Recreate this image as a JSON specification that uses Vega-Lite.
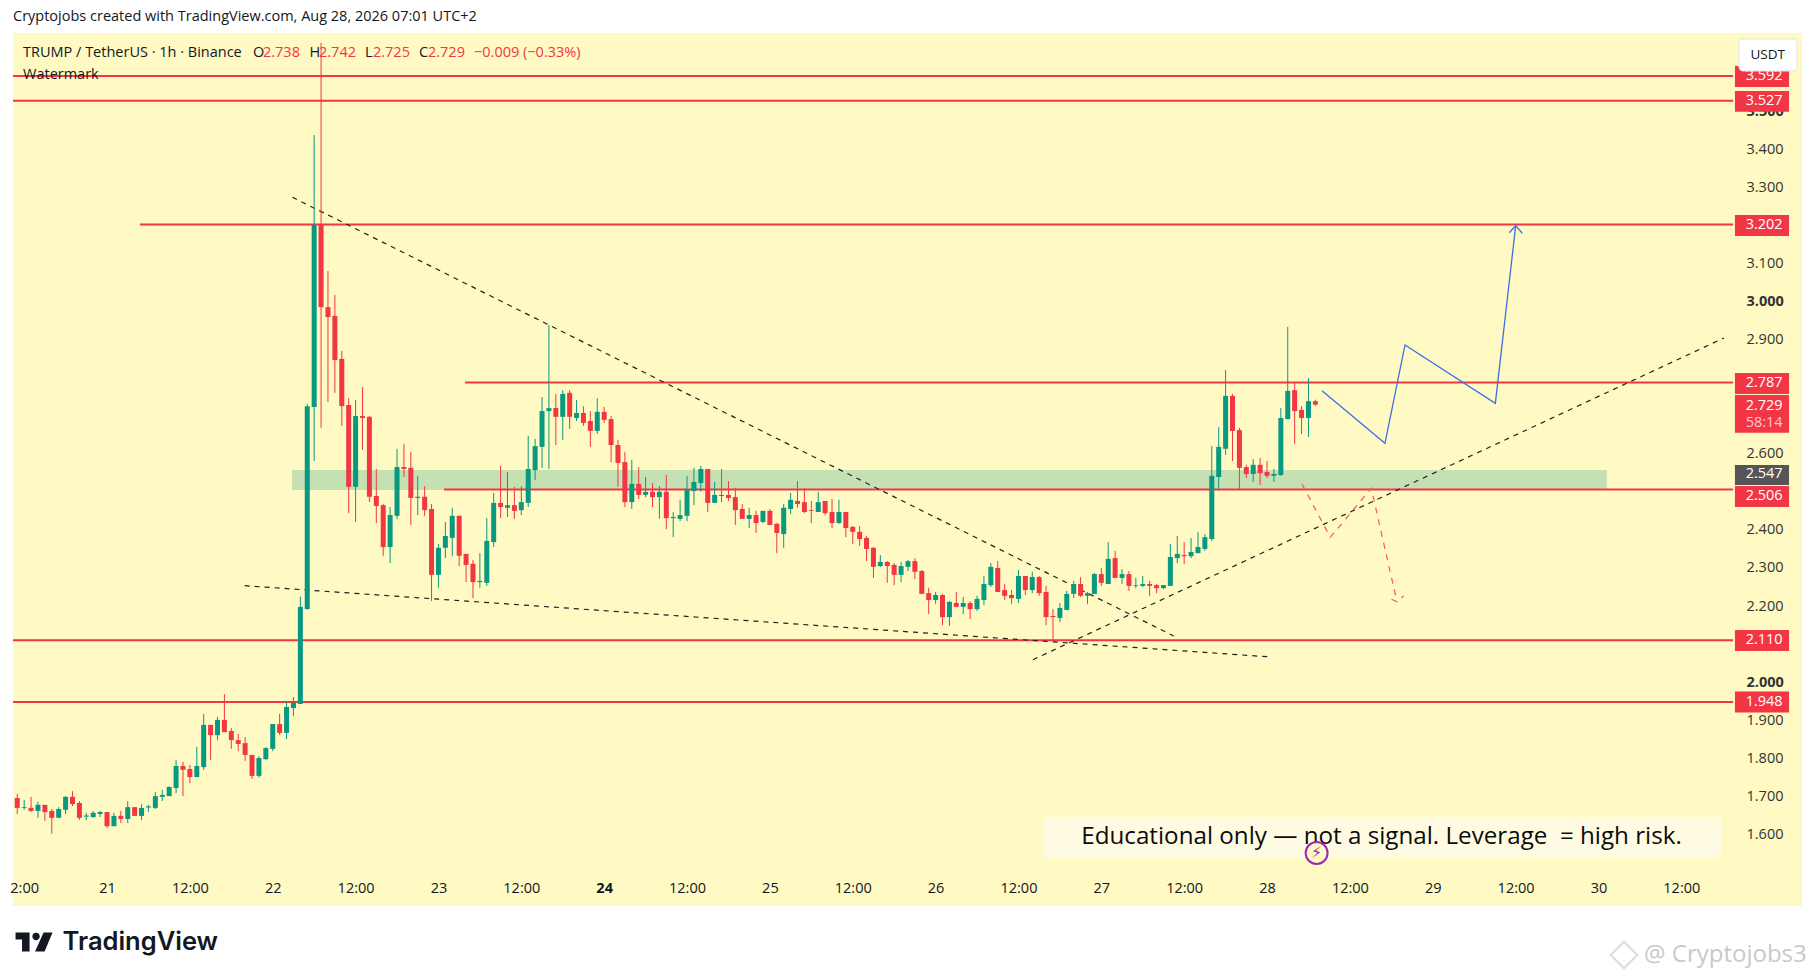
{"$schema":"https://vega.github.io/schema/vega-lite/v6.json","width":1788,"height":872,"autosize":{"type":"none"},"padding":{"left":13,"top":33,"right":13,"bottom":75},"background":"#ffffff","config":{"view":{"fill":"#FFF9C4","stroke":"#f0f3fa"},"font":"Open Sans"},
"title":{"text":"Cryptojobs created with TradingView.com, Aug 28, 2026 07:01 UTC+2","anchor":"start","frame":"group","offset":9,"fontSize":14.5,"fontWeight":"normal","color":"#131722","font":"Open Sans"},
"resolve":{"scale":{"color":"independent"}},
"datasets":{"candles":[
{"t":"2026-08-20T11:00","o":1.696,"h":1.707,"l":1.654,"c":1.670},{"t":"2026-08-20T12:00","o":1.670,"h":1.691,"l":1.665,"c":1.672},{"t":"2026-08-20T13:00","o":1.670,"h":1.699,"l":1.659,"c":1.662},{"t":"2026-08-20T14:00","o":1.662,"h":1.686,"l":1.644,"c":1.678},{"t":"2026-08-20T15:00","o":1.678,"h":1.678,"l":1.636,"c":1.659},{"t":"2026-08-20T16:00","o":1.662,"h":1.667,"l":1.602,"c":1.644},{"t":"2026-08-20T17:00","o":1.644,"h":1.672,"l":1.644,"c":1.667},{"t":"2026-08-20T18:00","o":1.665,"h":1.701,"l":1.654,"c":1.699},{"t":"2026-08-20T19:00","o":1.699,"h":1.714,"l":1.675,"c":1.680},{"t":"2026-08-20T20:00","o":1.683,"h":1.688,"l":1.638,"c":1.644},{"t":"2026-08-20T21:00","o":1.647,"h":1.657,"l":1.638,"c":1.650},{"t":"2026-08-20T22:00","o":1.646,"h":1.662,"l":1.644,"c":1.657},{"t":"2026-08-20T23:00","o":1.654,"h":1.662,"l":1.646,"c":1.659},
{"t":"2026-08-21T00:00","o":1.659,"h":1.659,"l":1.617,"c":1.622},{"t":"2026-08-21T01:00","o":1.622,"h":1.657,"l":1.622,"c":1.649},{"t":"2026-08-21T02:00","o":1.649,"h":1.662,"l":1.630,"c":1.641},{"t":"2026-08-21T03:00","o":1.641,"h":1.688,"l":1.630,"c":1.672},{"t":"2026-08-21T04:00","o":1.672,"h":1.672,"l":1.649,"c":1.649},{"t":"2026-08-21T05:00","o":1.649,"h":1.680,"l":1.638,"c":1.670},{"t":"2026-08-21T06:00","o":1.671,"h":1.678,"l":1.659,"c":1.674},{"t":"2026-08-21T07:00","o":1.670,"h":1.712,"l":1.667,"c":1.701},{"t":"2026-08-21T08:00","o":1.699,"h":1.717,"l":1.688,"c":1.704},{"t":"2026-08-21T09:00","o":1.701,"h":1.727,"l":1.701,"c":1.725},{"t":"2026-08-21T10:00","o":1.722,"h":1.796,"l":1.709,"c":1.780},{"t":"2026-08-21T11:00","o":1.780,"h":1.791,"l":1.701,"c":1.770},{"t":"2026-08-21T12:00","o":1.772,"h":1.783,"l":1.735,"c":1.751},{"t":"2026-08-21T13:00","o":1.751,"h":1.830,"l":1.751,"c":1.780},{"t":"2026-08-21T14:00","o":1.777,"h":1.917,"l":1.770,"c":1.888},{"t":"2026-08-21T15:00","o":1.888,"h":1.888,"l":1.796,"c":1.861},{"t":"2026-08-21T16:00","o":1.861,"h":1.909,"l":1.848,"c":1.901},{"t":"2026-08-21T17:00","o":1.901,"h":1.969,"l":1.869,"c":1.869},{"t":"2026-08-21T18:00","o":1.872,"h":1.880,"l":1.825,"c":1.848},{"t":"2026-08-21T19:00","o":1.848,"h":1.864,"l":1.819,"c":1.838},{"t":"2026-08-21T20:00","o":1.840,"h":1.856,"l":1.793,"c":1.809},{"t":"2026-08-21T21:00","o":1.809,"h":1.809,"l":1.746,"c":1.754},{"t":"2026-08-21T22:00","o":1.754,"h":1.806,"l":1.749,"c":1.801},{"t":"2026-08-21T23:00","o":1.798,"h":1.830,"l":1.796,"c":1.827},
{"t":"2026-08-22T00:00","o":1.825,"h":1.890,"l":1.819,"c":1.890},{"t":"2026-08-22T01:00","o":1.890,"h":1.917,"l":1.861,"c":1.867},{"t":"2026-08-22T02:00","o":1.867,"h":1.948,"l":1.851,"c":1.935},{"t":"2026-08-22T03:00","o":1.932,"h":1.961,"l":1.911,"c":1.946},{"t":"2026-08-22T04:00","o":1.943,"h":2.225,"l":1.943,"c":2.198},{"t":"2026-08-22T05:00","o":2.192,"h":2.731,"l":2.190,"c":2.725},{"t":"2026-08-22T06:00","o":2.723,"h":3.437,"l":2.581,"c":3.201},{"t":"2026-08-22T07:00","o":3.201,"h":3.679,"l":2.668,"c":2.985},{"t":"2026-08-22T08:00","o":2.985,"h":3.080,"l":2.736,"c":2.959},{"t":"2026-08-22T09:00","o":2.962,"h":3.017,"l":2.760,"c":2.846},{"t":"2026-08-22T10:00","o":2.849,"h":2.870,"l":2.673,"c":2.725},{"t":"2026-08-22T11:00","o":2.728,"h":2.746,"l":2.444,"c":2.513},{"t":"2026-08-22T12:00","o":2.513,"h":2.741,"l":2.421,"c":2.699},{"t":"2026-08-22T13:00","o":2.699,"h":2.775,"l":2.610,"c":2.694},{"t":"2026-08-22T14:00","o":2.697,"h":2.699,"l":2.473,"c":2.487},{"t":"2026-08-22T15:00","o":2.489,"h":2.560,"l":2.418,"c":2.463},{"t":"2026-08-22T16:00","o":2.465,"h":2.468,"l":2.332,"c":2.355},{"t":"2026-08-22T17:00","o":2.355,"h":2.460,"l":2.313,"c":2.439},{"t":"2026-08-22T18:00","o":2.437,"h":2.613,"l":2.429,"c":2.565},{"t":"2026-08-22T19:00","o":2.565,"h":2.626,"l":2.539,"c":2.560},{"t":"2026-08-22T20:00","o":2.563,"h":2.605,"l":2.413,"c":2.484},{"t":"2026-08-22T21:00","o":2.484,"h":2.542,"l":2.439,"c":2.487},{"t":"2026-08-22T22:00","o":2.487,"h":2.515,"l":2.437,"c":2.452},{"t":"2026-08-22T23:00","o":2.455,"h":2.468,"l":2.213,"c":2.282},
{"t":"2026-08-23T00:00","o":2.282,"h":2.363,"l":2.248,"c":2.353},{"t":"2026-08-23T01:00","o":2.353,"h":2.421,"l":2.326,"c":2.384},{"t":"2026-08-23T02:00","o":2.379,"h":2.458,"l":2.332,"c":2.437},{"t":"2026-08-23T03:00","o":2.437,"h":2.437,"l":2.305,"c":2.332},{"t":"2026-08-23T04:00","o":2.337,"h":2.337,"l":2.263,"c":2.308},{"t":"2026-08-23T05:00","o":2.311,"h":2.321,"l":2.221,"c":2.263},{"t":"2026-08-23T06:00","o":2.263,"h":2.339,"l":2.248,"c":2.266},{"t":"2026-08-23T07:00","o":2.261,"h":2.431,"l":2.253,"c":2.371},{"t":"2026-08-23T08:00","o":2.368,"h":2.497,"l":2.355,"c":2.471},{"t":"2026-08-23T09:00","o":2.471,"h":2.568,"l":2.431,"c":2.460},{"t":"2026-08-23T10:00","o":2.458,"h":2.552,"l":2.434,"c":2.465},{"t":"2026-08-23T11:00","o":2.465,"h":2.513,"l":2.429,"c":2.450},{"t":"2026-08-23T12:00","o":2.452,"h":2.515,"l":2.439,"c":2.473},{"t":"2026-08-23T13:00","o":2.471,"h":2.647,"l":2.460,"c":2.560},{"t":"2026-08-23T14:00","o":2.557,"h":2.639,"l":2.531,"c":2.620},{"t":"2026-08-23T15:00","o":2.618,"h":2.749,"l":2.563,"c":2.712},{"t":"2026-08-23T16:00","o":2.712,"h":2.938,"l":2.560,"c":2.720},{"t":"2026-08-23T17:00","o":2.720,"h":2.757,"l":2.623,"c":2.697},{"t":"2026-08-23T18:00","o":2.697,"h":2.767,"l":2.636,"c":2.757},{"t":"2026-08-23T19:00","o":2.760,"h":2.767,"l":2.665,"c":2.697},{"t":"2026-08-23T20:00","o":2.694,"h":2.741,"l":2.686,"c":2.707},{"t":"2026-08-23T21:00","o":2.707,"h":2.725,"l":2.673,"c":2.681},{"t":"2026-08-23T22:00","o":2.686,"h":2.712,"l":2.618,"c":2.660},{"t":"2026-08-23T23:00","o":2.660,"h":2.746,"l":2.652,"c":2.710},
{"t":"2026-08-24T00:00","o":2.710,"h":2.723,"l":2.681,"c":2.689},{"t":"2026-08-24T01:00","o":2.691,"h":2.699,"l":2.578,"c":2.623},{"t":"2026-08-24T02:00","o":2.623,"h":2.636,"l":2.513,"c":2.576},{"t":"2026-08-24T03:00","o":2.578,"h":2.605,"l":2.460,"c":2.473},{"t":"2026-08-24T04:00","o":2.473,"h":2.584,"l":2.455,"c":2.521},{"t":"2026-08-24T05:00","o":2.521,"h":2.565,"l":2.481,"c":2.492},{"t":"2026-08-24T06:00","o":2.492,"h":2.539,"l":2.486,"c":2.500},{"t":"2026-08-24T07:00","o":2.500,"h":2.523,"l":2.460,"c":2.486},{"t":"2026-08-24T08:00","o":2.486,"h":2.515,"l":2.429,"c":2.500},{"t":"2026-08-24T09:00","o":2.500,"h":2.544,"l":2.402,"c":2.431},{"t":"2026-08-24T10:00","o":2.431,"h":2.447,"l":2.381,"c":2.434},{"t":"2026-08-24T11:00","o":2.429,"h":2.479,"l":2.423,"c":2.439},{"t":"2026-08-24T12:00","o":2.437,"h":2.542,"l":2.423,"c":2.505},{"t":"2026-08-24T13:00","o":2.502,"h":2.563,"l":2.465,"c":2.526},{"t":"2026-08-24T14:00","o":2.523,"h":2.568,"l":2.500,"c":2.560},{"t":"2026-08-24T15:00","o":2.560,"h":2.560,"l":2.447,"c":2.471},{"t":"2026-08-24T16:00","o":2.471,"h":2.526,"l":2.471,"c":2.492},{"t":"2026-08-24T17:00","o":2.492,"h":2.560,"l":2.473,"c":2.489},{"t":"2026-08-24T18:00","o":2.492,"h":2.528,"l":2.476,"c":2.484},{"t":"2026-08-24T19:00","o":2.486,"h":2.510,"l":2.413,"c":2.452},{"t":"2026-08-24T20:00","o":2.455,"h":2.468,"l":2.429,"c":2.429},{"t":"2026-08-24T21:00","o":2.429,"h":2.458,"l":2.405,"c":2.439},{"t":"2026-08-24T22:00","o":2.439,"h":2.450,"l":2.392,"c":2.418},{"t":"2026-08-24T23:00","o":2.421,"h":2.450,"l":2.418,"c":2.450},
{"t":"2026-08-25T00:00","o":2.450,"h":2.455,"l":2.413,"c":2.413},{"t":"2026-08-25T01:00","o":2.416,"h":2.418,"l":2.339,"c":2.392},{"t":"2026-08-25T02:00","o":2.389,"h":2.468,"l":2.353,"c":2.458},{"t":"2026-08-25T03:00","o":2.455,"h":2.497,"l":2.442,"c":2.479},{"t":"2026-08-25T04:00","o":2.476,"h":2.528,"l":2.458,"c":2.468},{"t":"2026-08-25T05:00","o":2.473,"h":2.510,"l":2.444,"c":2.447},{"t":"2026-08-25T06:00","o":2.452,"h":2.476,"l":2.418,"c":2.450},{"t":"2026-08-25T07:00","o":2.447,"h":2.500,"l":2.447,"c":2.473},{"t":"2026-08-25T08:00","o":2.476,"h":2.476,"l":2.439,"c":2.444},{"t":"2026-08-25T09:00","o":2.447,"h":2.481,"l":2.405,"c":2.418},{"t":"2026-08-25T10:00","o":2.418,"h":2.479,"l":2.416,"c":2.447},{"t":"2026-08-25T11:00","o":2.447,"h":2.447,"l":2.381,"c":2.405},{"t":"2026-08-25T12:00","o":2.408,"h":2.410,"l":2.363,"c":2.395},{"t":"2026-08-25T13:00","o":2.395,"h":2.410,"l":2.358,"c":2.376},{"t":"2026-08-25T14:00","o":2.379,"h":2.384,"l":2.318,"c":2.350},{"t":"2026-08-25T15:00","o":2.353,"h":2.355,"l":2.274,"c":2.303},{"t":"2026-08-25T16:00","o":2.305,"h":2.334,"l":2.303,"c":2.316},{"t":"2026-08-25T17:00","o":2.316,"h":2.318,"l":2.261,"c":2.305},{"t":"2026-08-25T18:00","o":2.308,"h":2.313,"l":2.255,"c":2.282},{"t":"2026-08-25T19:00","o":2.282,"h":2.316,"l":2.263,"c":2.305},{"t":"2026-08-25T20:00","o":2.303,"h":2.321,"l":2.292,"c":2.318},{"t":"2026-08-25T21:00","o":2.318,"h":2.326,"l":2.271,"c":2.290},{"t":"2026-08-25T22:00","o":2.292,"h":2.295,"l":2.232,"c":2.232},{"t":"2026-08-25T23:00","o":2.234,"h":2.248,"l":2.179,"c":2.216},
{"t":"2026-08-26T00:00","o":2.216,"h":2.237,"l":2.206,"c":2.229},{"t":"2026-08-26T01:00","o":2.229,"h":2.232,"l":2.150,"c":2.171},{"t":"2026-08-26T02:00","o":2.171,"h":2.213,"l":2.148,"c":2.211},{"t":"2026-08-26T03:00","o":2.208,"h":2.237,"l":2.198,"c":2.198},{"t":"2026-08-26T04:00","o":2.198,"h":2.224,"l":2.179,"c":2.208},{"t":"2026-08-26T05:00","o":2.208,"h":2.213,"l":2.166,"c":2.192},{"t":"2026-08-26T06:00","o":2.192,"h":2.227,"l":2.187,"c":2.219},{"t":"2026-08-26T07:00","o":2.216,"h":2.279,"l":2.203,"c":2.258},{"t":"2026-08-26T08:00","o":2.255,"h":2.313,"l":2.250,"c":2.303},{"t":"2026-08-26T09:00","o":2.300,"h":2.318,"l":2.237,"c":2.237},{"t":"2026-08-26T10:00","o":2.242,"h":2.258,"l":2.216,"c":2.227},{"t":"2026-08-26T11:00","o":2.229,"h":2.242,"l":2.206,"c":2.221},{"t":"2026-08-26T12:00","o":2.219,"h":2.295,"l":2.208,"c":2.279},{"t":"2026-08-26T13:00","o":2.279,"h":2.279,"l":2.229,"c":2.242},{"t":"2026-08-26T14:00","o":2.242,"h":2.290,"l":2.234,"c":2.276},{"t":"2026-08-26T15:00","o":2.276,"h":2.279,"l":2.227,"c":2.234},{"t":"2026-08-26T16:00","o":2.237,"h":2.253,"l":2.150,"c":2.171},{"t":"2026-08-26T17:00","o":2.174,"h":2.192,"l":2.111,"c":2.171},{"t":"2026-08-26T18:00","o":2.169,"h":2.208,"l":2.158,"c":2.195},{"t":"2026-08-26T19:00","o":2.190,"h":2.240,"l":2.190,"c":2.232},{"t":"2026-08-26T20:00","o":2.232,"h":2.266,"l":2.221,"c":2.258},{"t":"2026-08-26T21:00","o":2.258,"h":2.276,"l":2.224,"c":2.227},{"t":"2026-08-26T22:00","o":2.227,"h":2.237,"l":2.206,"c":2.234},{"t":"2026-08-26T23:00","o":2.232,"h":2.287,"l":2.232,"c":2.284},
{"t":"2026-08-27T00:00","o":2.284,"h":2.300,"l":2.253,"c":2.261},{"t":"2026-08-27T01:00","o":2.258,"h":2.368,"l":2.258,"c":2.324},{"t":"2026-08-27T02:00","o":2.326,"h":2.345,"l":2.274,"c":2.274},{"t":"2026-08-27T03:00","o":2.274,"h":2.297,"l":2.258,"c":2.284},{"t":"2026-08-27T04:00","o":2.284,"h":2.292,"l":2.240,"c":2.253},{"t":"2026-08-27T05:00","o":2.253,"h":2.274,"l":2.247,"c":2.255},{"t":"2026-08-27T06:00","o":2.253,"h":2.279,"l":2.250,"c":2.258},{"t":"2026-08-27T07:00","o":2.258,"h":2.266,"l":2.226,"c":2.253},{"t":"2026-08-27T08:00","o":2.255,"h":2.258,"l":2.234,"c":2.247},{"t":"2026-08-27T09:00","o":2.247,"h":2.255,"l":2.245,"c":2.255},{"t":"2026-08-27T10:00","o":2.253,"h":2.363,"l":2.253,"c":2.329},{"t":"2026-08-27T11:00","o":2.326,"h":2.384,"l":2.313,"c":2.337},{"t":"2026-08-27T12:00","o":2.334,"h":2.368,"l":2.310,"c":2.331},{"t":"2026-08-27T13:00","o":2.331,"h":2.379,"l":2.326,"c":2.342},{"t":"2026-08-27T14:00","o":2.339,"h":2.395,"l":2.339,"c":2.355},{"t":"2026-08-27T15:00","o":2.350,"h":2.389,"l":2.345,"c":2.381},{"t":"2026-08-27T16:00","o":2.376,"h":2.620,"l":2.371,"c":2.542},{"t":"2026-08-27T17:00","o":2.539,"h":2.670,"l":2.505,"c":2.618},{"t":"2026-08-27T18:00","o":2.613,"h":2.820,"l":2.597,"c":2.752},{"t":"2026-08-27T19:00","o":2.752,"h":2.757,"l":2.581,"c":2.660},{"t":"2026-08-27T20:00","o":2.662,"h":2.668,"l":2.505,"c":2.563},{"t":"2026-08-27T21:00","o":2.565,"h":2.571,"l":2.536,"c":2.547},{"t":"2026-08-27T22:00","o":2.547,"h":2.586,"l":2.526,"c":2.571},{"t":"2026-08-27T23:00","o":2.571,"h":2.589,"l":2.518,"c":2.549},
{"t":"2026-08-28T00:00","o":2.552,"h":2.581,"l":2.536,"c":2.542},{"t":"2026-08-28T01:00","o":2.542,"h":2.560,"l":2.526,"c":2.547},{"t":"2026-08-28T02:00","o":2.544,"h":2.720,"l":2.542,"c":2.694},{"t":"2026-08-28T03:00","o":2.691,"h":2.933,"l":2.691,"c":2.765},{"t":"2026-08-28T04:00","o":2.767,"h":2.786,"l":2.626,"c":2.712},{"t":"2026-08-28T05:00","o":2.715,"h":2.725,"l":2.652,"c":2.694},{"t":"2026-08-28T06:00","o":2.694,"h":2.799,"l":2.644,"c":2.738},{"t":"2026-08-28T07:00","o":2.738,"h":2.742,"l":2.725,"c":2.729}],
"levels":[{"t":"2026-08-20T10:23","t2":"2026-08-30T19:30","p":3.592},{"t":"2026-08-20T10:23","t2":"2026-08-30T19:30","p":3.527},{"t":"2026-08-21T04:47","t2":"2026-08-30T19:30","p":3.202},{"t":"2026-08-23T03:51","t2":"2026-08-30T19:30","p":2.787},{"t":"2026-08-23T00:48","t2":"2026-08-30T19:30","p":2.506},{"t":"2026-08-20T10:23","t2":"2026-08-30T19:30","p":2.110},{"t":"2026-08-20T10:23","t2":"2026-08-30T19:30","p":1.948}],
"trend":[{"id":"a","t":"2026-08-22T02:51","p":3.2735},{"id":"a","t":"2026-08-27T10:29","p":2.1214},{"id":"b","t":"2026-08-21T19:56","p":2.2535},{"id":"b","t":"2026-08-28T00:34","p":2.0663},{"id":"c","t":"2026-08-26T14:06","p":2.0592},{"id":"c","t":"2026-08-30T18:11","p":2.904}],
"blue":[{"id":"path","t":"2026-08-28T07:58","p":2.7656},{"id":"path","t":"2026-08-28T17:05","p":2.6275},{"id":"path","t":"2026-08-28T19:59","p":2.8856},{"id":"path","t":"2026-08-29T09:04","p":2.7325},{"id":"path","t":"2026-08-29T12:01","p":3.1989},{"id":"head","t":"2026-08-29T11:05","p":3.1805},{"id":"head","t":"2026-08-29T12:01","p":3.1989},{"id":"head","t":"2026-08-29T12:58","p":3.179}],
"redpath":[{"id":"path","t":"2026-08-28T05:04","p":2.5206},{"id":"path","t":"2026-08-28T09:10","p":2.3806},{"id":"path","t":"2026-08-28T15:06","p":2.5093},{"id":"path","t":"2026-08-28T18:49","p":2.2115},{"id":"head","t":"2026-08-28T18:02","p":2.2178},{"id":"head","t":"2026-08-28T18:49","p":2.2115},{"id":"head","t":"2026-08-28T19:47","p":2.2265}],
"tags":[{"t":"2026-08-30T19:46","t2":"2026-08-31T03:36","p":3.618,"p2":3.563,"kind":"level"},{"t":"2026-08-30T19:46","t2":"2026-08-31T03:36","p":3.5526,"p2":3.4983,"kind":"level"},{"t":"2026-08-30T19:46","t2":"2026-08-31T03:36","p":3.227,"p2":3.1718,"kind":"level"},{"t":"2026-08-30T19:46","t2":"2026-08-31T03:36","p":2.812,"p2":2.7569,"kind":"level"},{"t":"2026-08-30T19:46","t2":"2026-08-31T03:36","p":2.7543,"p2":2.6553,"kind":"level"},{"t":"2026-08-30T19:46","t2":"2026-08-31T03:36","p":2.5705,"p2":2.518,"kind":"zone"},{"t":"2026-08-30T19:46","t2":"2026-08-31T03:36","p":2.5153,"p2":2.4602,"kind":"level"},{"t":"2026-08-30T19:46","t2":"2026-08-31T03:36","p":2.1372,"p2":2.082,"kind":"level"},{"t":"2026-08-30T19:46","t2":"2026-08-31T03:36","p":1.9757,"p2":1.9205,"kind":"level"}],
"tagtext":[{"t":"2026-08-31T00:00","p":3.592,"text":"3.592","kind":"main"},{"t":"2026-08-31T00:00","p":3.527,"text":"3.527","kind":"main"},{"t":"2026-08-31T00:00","p":3.202,"text":"3.202","kind":"main"},{"t":"2026-08-31T00:00","p":2.787,"text":"2.787","kind":"main"},{"t":"2026-08-31T00:00","p":2.725,"text":"2.729","kind":"main"},{"t":"2026-08-31T00:00","p":2.6816,"text":"58:14","kind":"sub"},{"t":"2026-08-31T00:00","p":2.547,"text":"2.547","kind":"main"},{"t":"2026-08-31T00:00","p":2.488,"text":"2.506","kind":"main"},{"t":"2026-08-31T00:00","p":2.110,"text":"2.110","kind":"main"},{"t":"2026-08-31T00:00","p":1.948,"text":"1.948","kind":"main"}],
"header":[{"t":"2026-08-20T11:50","p":3.6524,"text":"TRUMP / TetherUS · 1h · Binance","kind":"dark"},{"t":"2026-08-21T21:08","p":3.6524,"text":"O","kind":"dark"},{"t":"2026-08-21T22:35","p":3.6524,"text":"2.738","kind":"red"},{"t":"2026-08-22T05:19","p":3.6524,"text":"H","kind":"dark"},{"t":"2026-08-22T06:42","p":3.6524,"text":"2.742","kind":"red"},{"t":"2026-08-22T13:22","p":3.6524,"text":"L","kind":"dark"},{"t":"2026-08-22T14:31","p":3.6524,"text":"2.725","kind":"red"},{"t":"2026-08-22T21:11","p":3.6524,"text":"C","kind":"dark"},{"t":"2026-08-22T22:29","p":3.6524,"text":"2.729","kind":"red"},{"t":"2026-08-23T05:09","p":3.6524,"text":"−0.009 (−0.33%)","kind":"red"},{"t":"2026-08-20T11:50","p":3.5946,"text":"Watermark","kind":"dark"}]},
"encoding":{"x":{"field":"t","type":"temporal","title":null,"scale":{"nice":false,"padding":0,"domain":[{"year":2026,"month":8,"date":20,"hours":10,"minutes":23},{"year":2026,"month":8,"date":31,"hours":5,"minutes":20}]},"axis":{"orient":"bottom","offset":-17,"domain":false,"ticks":false,"grid":false,"labelPadding":0,"labelBaseline":"middle","labelAlign":"center","labelOverlap":false,"labelBound":false,"labelFlush":false,"labelFont":"Open Sans","labelFontSize":14.5,"labelColor":"#131722","values":[{"year":2026,"month":8,"date":20,"hours":12},{"year":2026,"month":8,"date":21,"hours":0},{"year":2026,"month":8,"date":21,"hours":12},{"year":2026,"month":8,"date":22,"hours":0},{"year":2026,"month":8,"date":22,"hours":12},{"year":2026,"month":8,"date":23,"hours":0},{"year":2026,"month":8,"date":23,"hours":12},{"year":2026,"month":8,"date":24,"hours":0},{"year":2026,"month":8,"date":24,"hours":12},{"year":2026,"month":8,"date":25,"hours":0},{"year":2026,"month":8,"date":25,"hours":12},{"year":2026,"month":8,"date":26,"hours":0},{"year":2026,"month":8,"date":26,"hours":12},{"year":2026,"month":8,"date":27,"hours":0},{"year":2026,"month":8,"date":27,"hours":12},{"year":2026,"month":8,"date":28,"hours":0},{"year":2026,"month":8,"date":28,"hours":12},{"year":2026,"month":8,"date":29,"hours":0},{"year":2026,"month":8,"date":29,"hours":12},{"year":2026,"month":8,"date":30,"hours":0},{"year":2026,"month":8,"date":30,"hours":12}],"labelExpr":"date(datum.value)===20 ? '\u00a0\u00a02:00' : hours(datum.value)===12 ? '12:00' : ''+date(datum.value)","labelFontWeight":{"condition":{"test":"date(datum.value)===24 && hours(datum.value)===0","value":"bold"},"value":"normal"}}},"y":{"field":"p","type":"quantitative","title":null,"scale":{"domain":[1.415,3.7049],"nice":false,"zero":false},"axis":{"orient":"right","offset":-55,"domain":false,"ticks":false,"grid":false,"labelPadding":0,"labelFont":"Open Sans","labelFontSize":14.5,"labelColor":"#333333","format":".3f","values":[1.6,1.7,1.8,1.9,2.0,2.2,2.3,2.4,2.6,2.9,3.0,3.1,3.3,3.4,3.5],"labelOverlap":false,"labelFontWeight":{"condition":{"test":"datum.value===2||datum.value===3||datum.value===3.5","value":"bold"},"value":"normal"}}}},
"layer":[
{"data":{"values":[{"t":"2026-08-22T02:48","t2":"2026-08-30T01:13","p":2.5573,"p2":2.5048}]},"mark":{"type":"rect","color":"#C5E1B3"},"encoding":{"x2":{"field":"t2"},"y2":{"field":"p2"}}},
{"data":{"name":"levels"},"mark":{"type":"rule","color":"#f23645","strokeWidth":2},"encoding":{"x2":{"field":"t2"}}},
{"data":{"name":"trend"},"mark":{"type":"line","color":"#222222","strokeWidth":1.2,"strokeDash":[5,5]},"encoding":{"detail":{"field":"id"}}},
{"data":{"name":"candles"},"mark":{"type":"rule","strokeWidth":1},"encoding":{"y":{"field":"l","type":"quantitative","title":null,"scale":{"domain":[1.415,3.7049],"nice":false,"zero":false},"axis":{"orient":"right","offset":-55,"domain":false,"ticks":false,"grid":false,"labelPadding":0,"labelFont":"Open Sans","labelFontSize":14.5,"labelColor":"#333333","format":".3f","values":[1.6,1.7,1.8,1.9,2.0,2.2,2.3,2.4,2.6,2.9,3.0,3.1,3.3,3.4,3.5],"labelOverlap":false,"labelFontWeight":{"condition":{"test":"datum.value===2||datum.value===3||datum.value===3.5","value":"bold"},"value":"normal"}}},"y2":{"field":"h"},"color":{"condition":{"test":"datum.c>=datum.o","value":"#089981"},"value":"#f23645"}}},
{"data":{"name":"candles"},"mark":{"type":"bar","size":5},"encoding":{"y":{"field":"o","type":"quantitative","title":null,"scale":{"domain":[1.415,3.7049],"nice":false,"zero":false},"axis":{"orient":"right","offset":-55,"domain":false,"ticks":false,"grid":false,"labelPadding":0,"labelFont":"Open Sans","labelFontSize":14.5,"labelColor":"#333333","format":".3f","values":[1.6,1.7,1.8,1.9,2.0,2.2,2.3,2.4,2.6,2.9,3.0,3.1,3.3,3.4,3.5],"labelOverlap":false,"labelFontWeight":{"condition":{"test":"datum.value===2||datum.value===3||datum.value===3.5","value":"bold"},"value":"normal"}}},"y2":{"field":"c"},"color":{"condition":{"test":"datum.c>=datum.o","value":"#089981"},"value":"#f23645"}}},
{"data":{"name":"blue"},"mark":{"type":"line","color":"#3d6ee8","strokeWidth":1.3},"encoding":{"detail":{"field":"id"}}},
{"data":{"name":"redpath"},"mark":{"type":"line","color":"#f5546a","strokeWidth":1.2,"strokeDash":[6,6]},"encoding":{"detail":{"field":"id"}}},
{"data":{"values":[{"t":"2026-08-26T15:38","t2":"2026-08-30T17:50","p":1.6461,"p2":1.5392}]},"mark":{"type":"rect","color":"#FFFBE3"},"encoding":{"x2":{"field":"t2"},"y2":{"field":"p2"}}},
{"data":{"values":[{"t":"2026-08-28T16:35","p":1.5936,"text":"Educational only — not a signal. Leverage \u00a0= high risk."}]},"mark":{"type":"text","align":"center","baseline":"middle","fontSize":24.2,"font":"Open Sans","color":"#0b0b0b"},"encoding":{"text":{"field":"text"}}},
{"data":{"values":[{"t":"2026-08-28T07:11","p":1.5516}]},"mark":{"type":"point","shape":"circle","size":480,"filled":false,"fill":"#FFF9C4","fillOpacity":1,"stroke":"#9c27b0","strokeWidth":2,"opacity":1},"encoding":{}},
{"data":{"values":[{"t":"2026-08-28T07:11","p":1.5516,"text":"⚡"}]},"mark":{"type":"text","align":"center","baseline":"middle","fontSize":16,"font":"DejaVu Sans","color":"#9c27b0"},"encoding":{"text":{"field":"text"}}},
{"data":{"name":"tags"},"mark":{"type":"rect"},"encoding":{"x2":{"field":"t2"},"y2":{"field":"p2"},"color":{"field":"kind","type":"nominal","legend":null,"scale":{"domain":["level","zone"],"range":["#f23645","#555555"]}}}},
{"data":{"name":"tagtext"},"mark":{"type":"text","align":"center","baseline":"middle","fontSize":14.5,"font":"Open Sans"},"encoding":{"text":{"field":"text"},"color":{"field":"kind","type":"nominal","legend":null,"scale":{"domain":["main","sub"],"range":["#ffffff","#ffc9ce"]}}}},
{"data":{"values":[{"t":"2026-08-30T20:21","t2":"2026-08-31T04:45","p":3.6892,"p2":3.6051}]},"mark":{"type":"rect","color":"#ffffff","stroke":"#e0e3eb","strokeWidth":1,"cornerRadius":4},"encoding":{"x2":{"field":"t2"},"y2":{"field":"p2"}}},
{"data":{"values":[{"t":"2026-08-31T00:30","p":3.647,"text":"USDT"}]},"mark":{"type":"text","align":"center","baseline":"middle","fontSize":13.5,"font":"Open Sans","color":"#131722"},"encoding":{"text":{"field":"text"}}},
{"data":{"name":"header"},"mark":{"type":"text","align":"left","baseline":"middle","fontSize":14.5,"font":"Open Sans"},"encoding":{"text":{"field":"text"},"color":{"field":"kind","type":"nominal","legend":null,"scale":{"domain":["dark","red"],"range":["#131722","#f23645"]}}}},
{"data":{"values":[{"t":"2026-08-20T13:26","p":1.3179}]},"mark":{"type":"point","filled":true,"opacity":1,"color":"#131722","size":1369,"shape":"M-1 -.514L-.243 -.514L-.243 .514L-.649 .514L-.649 -.135L-1 -.135ZM-.092 -.297a.2 .2 0 1 0 .4 0a.2 .2 0 1 0 -.4 0ZM.514 -.514L1 -.514L.568 .514L.054 .514Z"},"encoding":{}},
{"data":{"values":[{"t":"2026-08-20T17:34","p":1.3179,"text":"TradingView"}]},"mark":{"type":"text","align":"left","baseline":"middle","fontSize":25.5,"fontWeight":600,"font":"Inter","color":"#131722"},"encoding":{"text":{"field":"text"}}},
{"data":{"values":[{"t":"2026-08-30T06:36","p":1.2837,"text":"@ Cryptojobs3"}]},"mark":{"type":"text","align":"left","baseline":"middle","fontSize":24,"font":"Open Sans","color":"#c9c9c9"},"encoding":{"text":{"field":"text"}}},
{"data":{"values":[{"t":"2026-08-30T03:42","p":1.2837}]},"mark":{"type":"point","shape":"diamond","size":700,"filled":false,"stroke":"#dcdcdc","strokeWidth":2,"opacity":1},"encoding":{}}
]}
